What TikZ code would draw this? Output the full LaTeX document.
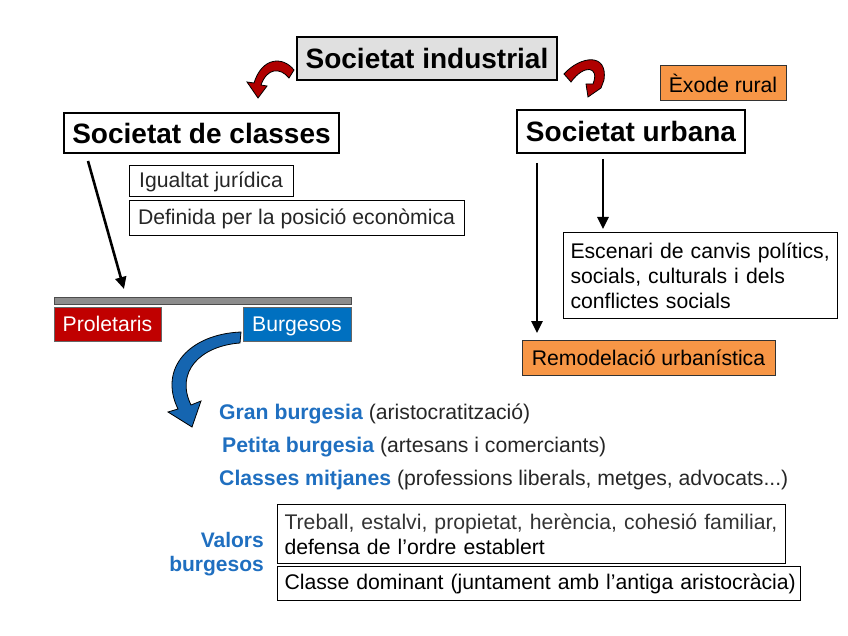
\documentclass[tikz,border=0pt]{standalone}
\usepackage{fontspec}
\setmainfont{Liberation Sans}
\usetikzlibrary{arrows.meta}
\definecolor{indgray}{HTML}{E0E0E0}
\definecolor{redbox}{HTML}{C00000}
\definecolor{bluebox}{HTML}{0070C0}
\definecolor{bluetxt}{HTML}{1F6FC0}
\definecolor{orangebox}{HTML}{F79646}
\definecolor{redarrow}{HTML}{B00000}
\definecolor{bararrow}{HTML}{1565B0}
\newcommand{\bodyfont}{\fontsize{21.2}{25}\selectfont}
\begin{document}
\begin{tikzpicture}[x=1pt,y=-1pt,
  bigbox/.style={draw=black, line width=2pt, inner sep=0pt, font=\fontsize{28}{32}\selectfont\bfseries},
  txtbox/.style={draw=black, line width=1pt, inner sep=0pt, font=\bodyfont},
  orbox/.style={draw=black!80, line width=1pt, fill=orangebox, inner sep=0pt, font=\bodyfont},
  colbox/.style={draw=black!60, line width=1pt, inner sep=0pt, text=white, text height=15pt, text depth=1pt, font=\bodyfont},
  line/.style={anchor=base west, inner sep=0pt, font=\bodyfont},
  arr/.style={draw=black, line width=2.6pt, -{Triangle[length=12pt,width=11pt]}},
  ]
\useasboundingbox (0,0) rectangle (848,636);

% top level
\node[bigbox, fill=indgray, minimum width=260, minimum height=43] (ind) at (427,58.5) {Societat industrial};
\node[bigbox, minimum width=275, minimum height=40] (cls) at (201.5,133) {Societat de classes};
\node[bigbox, minimum width=228, minimum height=43] (urb) at (631,131.5) {Societat urbana};
\node[orbox, minimum width=126, minimum height=35] (exode) at (723,83.5) {Èxode rural};

% red curved arrows
\coordinate (rl) at (258,98);
\coordinate (rr) at (588,97);
\filldraw[fill=redarrow, draw=black, line width=0.8pt]
  (294,70) .. controls (283,56) and (262,57) .. (254,83)
  -- (247,82) -- (rl) -- (267,86) -- (261,85)
  .. controls (267,68) and (280,67) .. (289,78) -- cycle;
\filldraw[fill=redarrow, draw=black, line width=0.8pt]
  (564,74) .. controls (580,56) and (608,52) .. (604,80)
  -- (601,88) -- (rr) -- (586,84) -- (593,84)
  .. controls (600,66) and (584,64) .. (571,82) -- cycle;

% left column
\node[txtbox, minimum width=164, minimum height=31, text=black!85] (igu) at (211,181.5) {Igualtat jurídica};
\node[txtbox, minimum width=335, minimum height=35, text=black!85] (def) at (296.5,218.5) {Definida per la posició econòmica};

\node[draw=black!70, fill=black!45, line width=1pt, minimum width=297, minimum height=7, inner sep=0pt] (bar) at (202.5,300.5) {};
\node[colbox, fill=redbox, minimum width=107, minimum height=34] (pro) at (107.5,324) {Proletaris};
\node[colbox, fill=bluebox, minimum width=108, minimum height=34] (bur) at (297,324) {Burgesos};

\coordinate (cstart) at (88,161);
\coordinate (cend) at (124,289);
\draw[arr] (cstart) -- (cend);

% blue curved arrow
\coordinate (bt) at (192,427);
\filldraw[fill=bararrow, draw=black, line width=0.8pt]
  (241,332) .. controls (190,334) and (158,368) .. (178,409)
  -- (168,412) -- (bt) -- (201,401) -- (191,405)
  .. controls (175,372) and (200,346) .. (240,343) -- cycle;

\node[line] (gb) at (219,419) {\textcolor{bluetxt}{\bfseries Gran burgesia} \textcolor{black!85}{(aristocratització)}};
\node[line] (pb) at (222,452) {\textcolor{bluetxt}{\bfseries Petita burgesia} \textcolor{black!85}{(artesans i comerciants)}};
\node[line] (cm) at (219,485) {\textcolor{bluetxt}{\bfseries Classes mitjanes} \textcolor{black!85}{(professions liberals, metges, advocats...)}};

\node[anchor=east, inner sep=0pt, align=right, text=bluetxt, font=\fontsize{21}{24}\selectfont\bfseries] (val) at (264,554) {Valors\\burgesos};
\node[txtbox, anchor=north west, minimum width=508, minimum height=59, text width=494, inner xsep=7pt, align=left] (v1) at (277,504) {\textcolor{black!80}{Treball, estalvi, propietat, herència, cohesió familiar,}\\defensa de l’ordre establert};
\node[txtbox, anchor=north west, minimum width=523, minimum height=34, text width=509, inner xsep=7pt, align=left] (v2) at (277,566) {\mbox{Classe dominant (juntament amb l’antiga aristocràcia)}};

% right column
\node[txtbox, anchor=north west, minimum width=274, minimum height=86, text width=260, inner xsep=7pt, align=left] (esc) at (563,232) {Escenari de canvis polítics,\\socials, culturals i dels\\conflictes socials};
\node[orbox, minimum width=253, minimum height=35] (rem) at (648.5,357.5) {Remodelació urbanística};

\coordinate (u1s) at (537,163);
\coordinate (u1e) at (537,333);
\coordinate (u2s) at (603,159);
\coordinate (u2e) at (603,229);
\draw[arr] (u1s) -- (u1e);
\draw[arr] (u2s) -- (u2e);
\end{tikzpicture}
\end{document}
